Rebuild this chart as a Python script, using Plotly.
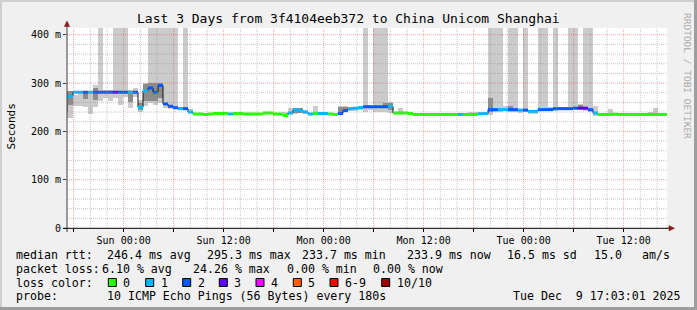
import plotly.graph_objects as go
import pandas as pd

N = None

# ---------------- data ----------------
# 36-minute consolidation bins
bin_start = pd.date_range("2025-12-06 16:43:12", periods=121, freq="36min")
X_START = "2025-12-06 17:12:00"
X_END = "2025-12-09 17:12:00"

# median rtt per bin (ms)
median_ms = [
    272, 273, 281, 281, 281, 281, 281, 281, 281, 281,
    281, 281, 281, 281, 281, 250, 284, 290, 281, 295,
    257, 252, 249, 247, 247, 240, 236, 236, 235, 236,
    237, 237, 237, 236, 237, 237, 236, 236, 236, 236,
    238, 238, 236, 236, 233, 238, 245, 243, 240, 236,
    237, 237, 237, 236, 235, 237, 243, 247, 248, 249,
    251, 251, 251, 251, 251, 252, 238, 238, 238, 237,
    235, 235, 235, 235, 235, 235, 235, 235, 235, 235,
    235, 235, 235, 236.5, 237, 245, 245, 245, 245, 245,
    245, 244, 244, 241.5, 241.5, 245, 245, 245, 247, 247,
    247, 247, 248, 248, 248, 245, 238, 235, 235, 235,
    235.5, 235, 235, 235, 235, 235, 235, 235, 235, 235,
    235,
]

# loss class per bin (index into loss_colors)
loss_idx = [
    1, 1, 1, 1, 2, 1, 2, 2, 2, 2,
    3, 2, 2, 1, 2, 1, 1, 2, 2, 2,
    2, 2, 2, 1, 2, 1, 0, 0, 0, 0,
    0, 0, 0, 1, 0, 0, 0, 0, 0, 0,
    0, 0, 0, 0, 0, 1, 1, 1, 1, 1,
    0, 1, 1, 0, 0, 2, 2, 1, 1, 1,
    2, 2, 2, 2, 2, 1, 0, 0, 0, 0,
    0, 0, 0, 0, 0, 0, 0, 0, 0, 1,
    0, 0, 0, 1, 1, 2, 2, 1, 1, 2,
    2, 1, 2, 1, 1, 2, 2, 2, 2, 2,
    2, 2, 2, 3, 3, 2, 1, 0, 0, 0,
    0, 0, 0, 0, 0, 0, 0, 0, 0, 0,
    0,
]

# outer smoke (min / max ping per bin, ms); 500 = beyond graph top
smoke_lo = [
    228, 228, 252, 252, 251, 236, 250, 262, 269, 262,
    270, 255, 272, 248, 272, 240, 252, 258, 255, 258,
    248, 247, 246, 244, 245, 238, N, N, N, N,
    N, N, N, N, N, N, N, N, N, N,
    N, N, N, N, 231, 236, 236, 238, 236, N,
    238, N, N, N, N, 238, 240, 242, 242, 245,
    240, 245, 240, 240, 240, 238, 236, 236, 236, N,
    N, N, N, N, N, N, N, 232, N, N,
    N, 233, 233, 233, 233, 234, 240, 240, 243, 241,
    241, 238, 240, 237, 237, 242, 242, 243, 243, 244,
    244, 244, 244, 245, 243, 240, 231, N, N, 238,
    N, N, N, N, N, N, N, 233, 233, N,
    N,
]
smoke_hi = [
    283, 283, 276, 281, 281, 283, 297, 500, 286, 286,
    500, 500, 500, 286, 290, 264, 300, 500, 500, 500,
    500, 500, 500, 250, 500, 247, N, N, N, N,
    N, N, N, N, N, N, N, N, N, N,
    N, N, N, N, 240, 249, 249, 249, 245, N,
    253, N, N, N, N, 253, 253, 250, 250, 253,
    500, 255, 500, 500, 500, 260, 241, 248, 241, N,
    N, N, N, N, N, N, N, 239, N, N,
    N, 240, 240, 241, 241, 500, 500, 500, 252, 500,
    500, 246, 500, 244, 244, 500, 500, 250, 500, 250,
    250, 500, 500, 256, 500, 500, 253, N, N, 247,
    N, N, N, N, N, N, N, 240, 248, N,
    N,
]
# dense smoke core (ms)
core_lo = [N] * 121
core_hi = [N] * 121
core_bins = [0, 1, 4, 6, 13, 15, 16, 17, 18, 19, 46, 47, 55, 56, 64, 65, 85, 89, 103]
core_lo_v = [240, 255, 268, 265, 260, 244, 262, 262, 262, 270, 238, 238, 238, 240, 250, 245, 240, 243, 248]
core_hi_v = [283, 283, 281, 290, 284, 258, 298, 300, 300, 300, 249, 249, 250, 250, 258, 258, 270, 253, 255]
for b, lo, hi in zip(core_bins, core_lo_v, core_hi_v):
    core_lo[b] = lo
    core_hi[b] = hi

loss_colors = ["#26ff00", "#00b8ff", "#0059ff", "#5e00ff", "#ff00ff", "#ff5e00", "#ff0000", "#a10000"]
loss_labels = ["0", "1", "2", "3", "4", "5", "6-9", "10/10"]

y_tickvals = [0, 100, 200, 300, 400]
y_ticktext = ["0", "100 m", "200 m", "300 m", "400 m"]
Y_MAX = 414

x_tickvals = pd.date_range("2025-12-06 18:00", "2025-12-09 12:00", freq="6h")
x_ticktext = [t.strftime("%a %H:%M") if t.hour in (0, 12) else "" for t in x_tickvals]
x_minor = pd.date_range("2025-12-06 18:00", "2025-12-09 16:00", freq="2h")

title_text = "Last 3 Days from 3f4104eeb372 to China Unicom Shanghai"
row_rtt = [(16, "median rtt:"), (107.3, "246.4 ms avg"), (207.3, "295.3 ms max"),
           (301.7, "233.7 ms min"), (407.3, "233.9 ms now"), (506.7, "16.5 ms sd"),
           (594.3, "15.0"), (641.7, "am/s")]
row_loss = [(16, "packet loss:"), (101.7, "6.10 % avg"), (193.3, "24.26 % max"),
            (286.7, "0.00 % min"), (372.7, "0.00 % now")]
row_probe = [(16, "probe:"), (107.3, "10 ICMP Echo Pings (56 Bytes) every 180s"),
             (513.3, "Tue Dec\u00a0\u00a09 17:03:01 2025")]
square_x = [108.3, 145.7, 182.7, 219.3, 256, 293.3, 330, 381.7]

# ---------------- layout geometry ----------------
W, H = 697, 310
L, R, T, B = 67, 30, 28, 82
PW, PH = W - L - R, H - T - B


def px(x):
    return (x - L) / PW


def py(y):
    return (H - B - y) / PH


MONO = "DejaVu Sans Mono"
centers = bin_start + pd.Timedelta(minutes=18)
bin_end = bin_start + pd.Timedelta(minutes=36)
bin_w = 36 * 60 * 1000

fig = go.Figure()


def band(lo, hi, color):
    xs, bs, hs = [], [], []
    for c, l, h in zip(centers, lo, hi):
        if l is None:
            continue
        xs.append(c)
        bs.append(l)
        hs.append(h - l)
    fig.add_trace(go.Bar(x=xs, y=hs, base=bs, width=bin_w,
                         marker=dict(color=color, line=dict(width=0)),
                         hoverinfo="skip", showlegend=False))


band(smoke_lo, smoke_hi, "#cbcbcb")
band(core_lo, core_hi, "#8c8c8c")

# step connectors of the median
step_x = list(bin_start) + [bin_end[-1]]
step_y = list(median_ms) + [median_ms[-1]]
fig.add_trace(go.Scatter(x=step_x, y=step_y, mode="lines", line=dict(color="#111111", width=1, shape="hv"),
                         hoverinfo="skip", showlegend=False))

# median line coloured by loss
for ci, col in enumerate(loss_colors):
    xs, ys = [], []
    for s, e, m, li in zip(bin_start, bin_end, median_ms, loss_idx):
        if li != ci:
            continue
        xs += [s, e, None]
        ys += [m, m, None]
    if not xs:
        continue
    fig.add_trace(go.Scatter(x=xs, y=ys, mode="lines", line=dict(color=col, width=3),
                             connectgaps=False, hoverinfo="skip", showlegend=False))

shapes = []
# grid (drawn over the smoke, like rrdtool)
minor_col = "rgba(150,150,150,0.55)"
major_col = "rgba(230,80,80,0.5)"
for t in x_minor:
    if t.hour % 6 == 0:
        continue
    shapes.append(dict(type="line", xref="x", yref="paper", x0=t, x1=t, y0=0, y1=1,
                       line=dict(color=minor_col, width=1, dash="1px,1px"), layer="above"))
for yv in range(20, 420, 20):
    if yv % 100 == 0:
        continue
    shapes.append(dict(type="line", xref="paper", yref="y", x0=0, x1=1, y0=yv, y1=yv,
                       line=dict(color=minor_col, width=1, dash="1px,1px"), layer="above"))
for t in x_tickvals:
    shapes.append(dict(type="line", xref="x", yref="paper", x0=t, x1=t, y0=0, y1=1,
                       line=dict(color=major_col, width=1, dash="1px,1px"), layer="above"))
for yv in y_tickvals[1:]:
    shapes.append(dict(type="line", xref="paper", yref="y", x0=0, x1=1, y0=yv, y1=yv,
                       line=dict(color=major_col, width=1, dash="1px,1px"), layer="above"))

# axes with arrows
shapes.append(dict(type="line", xref="paper", yref="paper", x0=px(67), x1=px(67), y0=py(232), y1=py(25),
                   line=dict(color="#3a3a3a", width=1), layer="above"))
shapes.append(dict(type="line", xref="paper", yref="paper", x0=px(63), x1=px(670), y0=py(228.3), y1=py(228.3),
                   line=dict(color="#000000", width=1), layer="above"))
arrow_col = "#8b1a1a"


def tri(pts):
    d = "M " + " L ".join(f"{px(a):.5f},{py(b):.5f}" for a, b in pts) + " Z"
    return dict(type="path", xref="paper", yref="paper", path=d, fillcolor=arrow_col,
                line=dict(color=arrow_col, width=0.5), layer="above")


shapes.append(tri([(64.3, 26.5), (69.7, 26.5), (67, 21)]))
shapes.append(tri([(669, 225.6), (669, 231), (674.5, 228.3)]))

# loss-colour squares
for sx, col in zip(square_x, loss_colors):
    shapes.append(dict(type="rect", xref="paper", yref="paper", x0=px(sx), x1=px(sx + 8),
                       y0=py(278.5), y1=py(286.5), fillcolor=col, line=dict(color="#000000", width=1),
                       layer="above"))

# frame shading
shade_a, shade_b = "#cfcfcf", "#9e9e9e"
shapes.append(dict(type="rect", xref="paper", yref="paper", x0=px(0), x1=px(W), y0=py(0), y1=py(2),
                   fillcolor=shade_a, line=dict(width=0), layer="above"))
shapes.append(dict(type="rect", xref="paper", yref="paper", x0=px(0), x1=px(2), y0=py(0), y1=py(H),
                   fillcolor=shade_a, line=dict(width=0), layer="above"))
shapes.append(dict(type="rect", xref="paper", yref="paper", x0=px(W - 3), x1=px(W), y0=py(0), y1=py(H),
                   fillcolor=shade_b, line=dict(width=0), layer="above"))
shapes.append(dict(type="rect", xref="paper", yref="paper", x0=px(0), x1=px(W), y0=py(H - 3), y1=py(H),
                   fillcolor=shade_b, line=dict(width=0), layer="above"))

ann = []


def text(x, y, s, size=11.6, color="#000000", xanchor="left", angle=0):
    ann.append(dict(x=px(x), y=py(y), xref="paper", yref="paper", text=s, showarrow=False,
                    xanchor=xanchor, yanchor="middle", textangle=angle, borderpad=0, borderwidth=0,
                    font=dict(family=MONO, size=size, color=color)))


text(348, 18.5, title_text, size=13, xanchor="center")
text(10.5, 127, "Seconds", size=11, xanchor="center", angle=-90)
text(688, 76, "RRDTOOL / TOBI OETIKER", size=9.5, color="#a8a8a8", xanchor="center", angle=90)
for x, s in row_rtt:
    text(x, 255, s)
for x, s in row_loss:
    text(x, 268.5, s)
text(16, 282.5, "loss color:")
for sx, lab in zip(square_x, loss_labels):
    text(sx + 15, 282.5, lab)
for x, s in row_probe:
    text(x, 296, s)

fig.update_layout(
    width=W, height=H,
    margin=dict(l=L, r=R, t=T, b=B, pad=0),
    paper_bgcolor="#f0f0f0", plot_bgcolor="#ffffff",
    barmode="overlay", bargap=0,
    showlegend=False,
    shapes=shapes, annotations=ann,
    xaxis=dict(type="date", range=[X_START, X_END], tickmode="array", tickvals=list(x_tickvals),
               ticktext=x_ticktext, ticks="outside", ticklen=3, tickcolor="#000000",
               showgrid=False, zeroline=False, showline=False, fixedrange=True,
               tickfont=dict(family=MONO, size=10, color="#000000")),
    yaxis=dict(range=[0, Y_MAX], tickmode="array", tickvals=y_tickvals, ticktext=y_ticktext,
               ticks="outside", ticklen=3, tickcolor="#3a3a3a",
               showgrid=False, zeroline=False, showline=False, fixedrange=True,
               tickfont=dict(family=MONO, size=10, color="#000000")),
)

fig.write_html("out.html", config={"displayModeBar": False})
